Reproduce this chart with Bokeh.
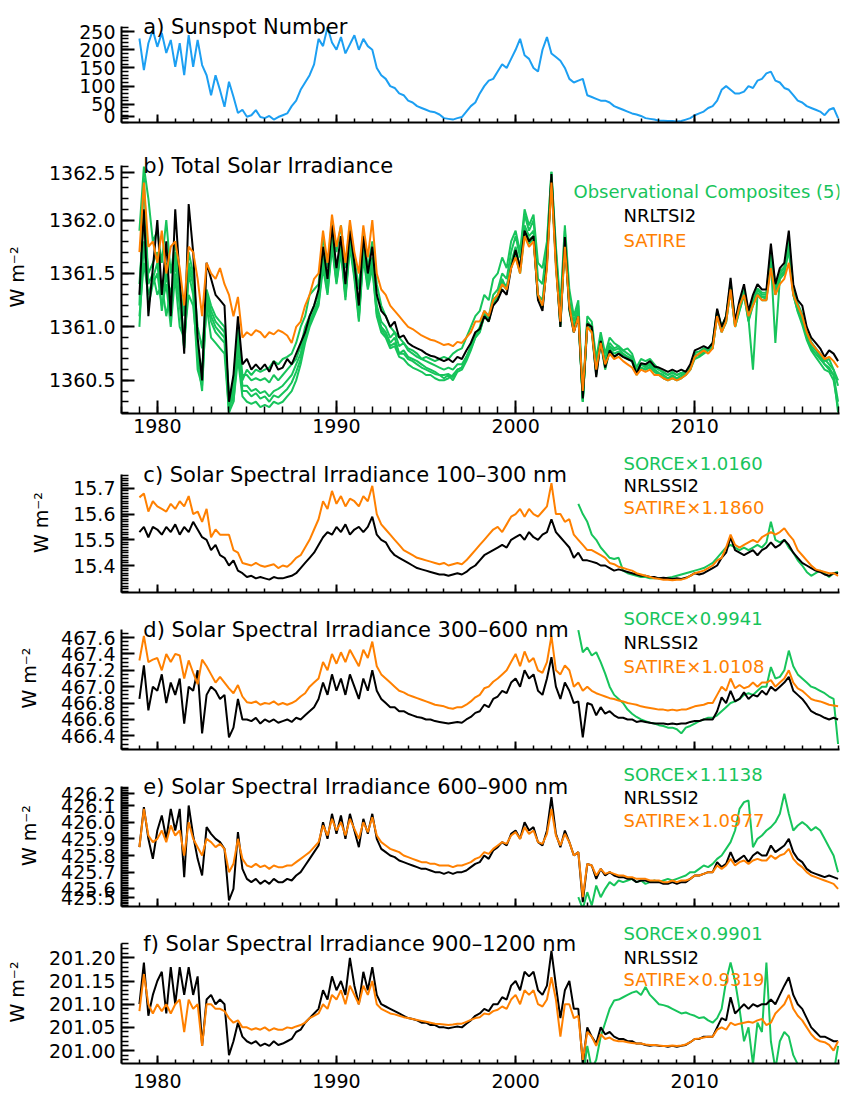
import numpy as np
from bokeh.plotting import figure
from bokeh.layouts import column
from bokeh.models import Range1d, FixedTicker, PrintfTickFormatter, Label
from bokeh.embed import file_html
from bokeh.resources import INLINE

# ---------------- data (quarterly samples, 1979.0 ... 2018.0) ----------------
START = 1979.0
STEP = 0.25
SORCE_START = 2003.5

sunspot = [
    231, 144, 218, 254,
    208, 246, 191, 227,
    153, 218, 130, 240,
    153, 227, 158, 130,
    75, 130, 89, 43,
    112, 71, 26, 35,
    16, 20, 34, 15,
    12, 18, 8, 15,
    20, 25, 45, 60,
    90, 110, 130, 160,
    230, 210, 262, 220,
    200, 235, 190, 215,
    240, 200, 230, 210,
    200, 150, 130, 120,
    100, 95, 80, 75,
    60, 55, 45, 40,
    35, 30, 28, 22,
    12, 10, 8, 12,
    15, 30, 45, 55,
    80, 100, 115, 120,
    140, 160, 150, 175,
    200, 230, 185, 175,
    150, 140, 200, 235,
    190, 180, 170, 150,
    120, 110, 115, 120,
    75, 70, 65, 60,
    60, 55, 45, 40,
    35, 30, 25, 22,
    18, 12, 10, 8,
    5, 5, 4, 4,
    3, 4, 8, 12,
    20, 25, 30, 40,
    45, 60, 90, 100,
    90, 80, 80, 85,
    100, 95, 115, 120,
    135, 140, 115, 110,
    95, 90, 75, 60,
    55, 45, 40, 35,
    30, 20, 35, 40,
    12,
]

tsi_nrltsi2 = [
    1361.3, 1362.1, 1361.1, 1361.55,
    1362.0, 1361.3, 1361.8, 1361.1,
    1362.1, 1361.45, 1360.75, 1362.15,
    1361.7, 1360.9, 1360.5, 1361.6,
    1361.45, 1361.3, 1361.25, 1361.2,
    1360.3, 1360.55, 1361.1, 1360.65,
    1360.7, 1360.6, 1360.65, 1360.6,
    1360.65, 1360.58, 1360.68, 1360.6,
    1360.62, 1360.7, 1360.65, 1360.75,
    1360.85, 1360.95, 1361.1, 1361.2,
    1361.35, 1361.75, 1361.45, 1361.95,
    1361.55, 1361.85, 1361.4, 1361.9,
    1361.6, 1361.2, 1361.85, 1361.5,
    1361.75, 1361.3, 1361.15, 1361.1,
    1361.0, 1361.05, 1360.9, 1360.92,
    1360.85, 1360.82, 1360.8, 1360.78,
    1360.75, 1360.73, 1360.72, 1360.7,
    1360.68, 1360.7, 1360.67, 1360.72,
    1360.7, 1360.78, 1360.85, 1360.95,
    1360.98, 1361.1, 1361.05, 1361.2,
    1361.25, 1361.35, 1361.3, 1361.55,
    1361.72, 1361.55, 1361.9, 1361.8,
    1361.85, 1361.25, 1361.15, 1361.6,
    1362.43, 1361.6, 1361.0, 1361.84,
    1361.17, 1360.95, 1361.1, 1360.33,
    1361.03, 1361.0, 1360.53, 1360.87,
    1360.62, 1360.78, 1360.72, 1360.75,
    1360.72, 1360.7, 1360.68, 1360.56,
    1360.66, 1360.65, 1360.68, 1360.63,
    1360.62, 1360.6, 1360.58, 1360.6,
    1360.58, 1360.6, 1360.58, 1360.65,
    1360.78, 1360.8, 1360.82, 1360.8,
    1360.85, 1361.17, 1361.0, 1361.1,
    1361.46, 1361.05, 1361.25, 1361.4,
    1361.15, 1361.3, 1361.4, 1361.35,
    1361.35, 1361.78, 1361.4, 1361.55,
    1361.6, 1361.9, 1361.4, 1361.25,
    1361.2, 1361.0, 1360.9, 1360.85,
    1360.8, 1360.72, 1360.78, 1360.75,
    1360.68,
]

tsi_satire = [
    1361.7, 1362.35, 1361.75, 1361.8,
    1361.6, 1361.9, 1361.5, 1361.75,
    1361.8, 1361.55, 1361.2, 1361.75,
    1361.7, 1361.45, 1361.1, 1361.6,
    1361.5, 1361.45, 1361.55, 1361.4,
    1361.3, 1361.1, 1361.28, 1360.9,
    1360.95, 1360.92, 1360.97, 1360.95,
    1360.9, 1360.95, 1360.93, 1360.97,
    1360.95, 1360.92, 1360.85, 1361.0,
    1361.05, 1361.2, 1361.3, 1361.45,
    1361.5, 1361.9, 1361.6, 1362.05,
    1361.75, 1361.95, 1361.6, 1362.0,
    1361.7, 1361.5, 1361.95, 1361.65,
    1362.0, 1361.5, 1361.35, 1361.3,
    1361.2, 1361.15, 1361.1, 1361.05,
    1361.0, 1360.98, 1360.95, 1360.92,
    1360.9, 1360.88, 1360.87, 1360.85,
    1360.83, 1360.84, 1360.82, 1360.86,
    1360.85, 1360.9, 1360.95, 1361.05,
    1361.05, 1361.15, 1361.1, 1361.25,
    1361.3, 1361.4, 1361.35, 1361.55,
    1361.65, 1361.5, 1361.85, 1361.75,
    1361.8, 1361.3, 1361.2, 1361.55,
    1362.35, 1361.55, 1361.05, 1361.75,
    1361.2, 1360.95, 1361.1, 1360.4,
    1361.0, 1360.95, 1360.6, 1360.85,
    1360.65, 1360.75, 1360.7, 1360.72,
    1360.68, 1360.65, 1360.62, 1360.55,
    1360.6, 1360.58, 1360.6, 1360.55,
    1360.55, 1360.52, 1360.5, 1360.52,
    1360.5, 1360.52, 1360.55, 1360.6,
    1360.72, 1360.75, 1360.78, 1360.75,
    1360.8, 1361.1, 1360.95, 1361.05,
    1361.35, 1361.0, 1361.2, 1361.3,
    1361.1, 1361.2, 1361.3, 1361.25,
    1361.25, 1361.55, 1361.3, 1361.4,
    1361.45, 1361.6, 1361.3, 1361.2,
    1361.1, 1360.95, 1360.85, 1360.8,
    1360.75, 1360.7, 1360.72, 1360.68,
    1360.62,
]

tsi_composite_1 = [
    1361.9, 1362.5, 1362.2, 1361.8,
    1361.9, 1361.6, 1362.0, 1361.5,
    1361.8, 1361.4, 1361.1, 1361.7,
    1361.5, 1361.0, 1360.8, 1361.3,
    1361.1, 1361.0, 1360.95, 1360.9,
    1360.4, 1360.3, 1360.8, 1360.5,
    1360.6, 1360.55, 1360.6, 1360.58,
    1360.6, 1360.62, 1360.68, 1360.65,
    1360.7, 1360.72, 1360.75, 1360.85,
    1361.0, 1361.1, 1361.3, 1361.35,
    1361.4, 1361.85, 1361.55, 1362.0,
    1361.7, 1361.95, 1361.55, 1361.95,
    1361.65, 1361.35, 1361.9, 1361.55,
    1361.8, 1361.4, 1361.2, 1361.1,
    1361.0, 1360.95, 1360.9, 1360.85,
    1360.8, 1360.78, 1360.75, 1360.7,
    1360.72, 1360.7, 1360.68, 1360.7,
    1360.72, 1360.7, 1360.75, 1360.78,
    1360.8, 1360.9, 1361.0, 1361.1,
    1361.15, 1361.3, 1361.25, 1361.45,
    1361.5, 1361.65, 1361.55, 1361.8,
    1361.9, 1361.7, 1362.1, 1361.95,
    1362.05, 1361.6, 1361.55, 1361.8,
    1362.45, 1361.75, 1361.2, 1361.95,
    1361.35, 1361.1, 1361.25, 1360.35,
    1361.1, 1361.05, 1360.7, 1360.95,
    1360.75, 1360.9, 1360.85, 1360.82,
    1360.78, 1360.8, 1360.75, 1360.62,
    1360.7, 1360.68, 1360.7, 1360.65,
    1360.6, 1360.58, 1360.55, 1360.58,
    1360.55, 1360.57, 1360.58, 1360.62,
    1360.72, 1360.75, 1360.78, 1360.8,
    1360.85, 1361.15, 1361.0, 1361.1,
    1361.4, 1361.05, 1361.2, 1361.35,
    1361.1, 1361.25, 1361.35, 1361.3,
    1361.3, 1361.7, 1361.35, 1361.5,
    1361.55, 1361.8, 1361.35, 1361.2,
    1361.1, 1360.95, 1360.85, 1360.8,
    1360.75, 1360.7, 1360.65, 1360.6,
    1360.45,
]

tsi_composite_2 = [
    1361.1, 1361.6, 1361.3, 1361.45,
    1361.6, 1361.15, 1361.5, 1361.2,
    1361.6, 1361.3, 1360.8, 1361.55,
    1361.4, 1360.7, 1360.4, 1361.3,
    1361.15, 1361.05, 1361.0, 1360.95,
    1360.25, 1360.45, 1360.9, 1360.45,
    1360.45, 1360.4, 1360.42, 1360.38,
    1360.4, 1360.35, 1360.4, 1360.42,
    1360.45, 1360.5, 1360.55, 1360.65,
    1360.75, 1360.95, 1361.05, 1361.15,
    1361.25, 1361.6, 1361.35, 1361.8,
    1361.45, 1361.75, 1361.3, 1361.8,
    1361.5, 1361.1, 1361.7, 1361.4,
    1361.6, 1361.15, 1361.0, 1360.95,
    1360.85, 1360.9, 1360.75, 1360.78,
    1360.72, 1360.7, 1360.68, 1360.65,
    1360.62, 1360.6, 1360.58, 1360.55,
    1360.52, 1360.55, 1360.5, 1360.58,
    1360.6, 1360.68, 1360.78, 1360.9,
    1360.95, 1361.1, 1361.05, 1361.25,
    1361.3, 1361.45, 1361.35, 1361.6,
    1361.75, 1361.55, 1361.95, 1361.85,
    1361.9, 1361.3, 1361.25, 1361.65,
    1362.35, 1361.65, 1361.05, 1361.85,
    1361.2, 1361.0, 1361.15, 1360.3,
    1361.05, 1361.0, 1360.6, 1360.9,
    1360.65, 1360.82, 1360.78, 1360.8,
    1360.75, 1360.72, 1360.7, 1360.58,
    1360.62, 1360.6, 1360.62, 1360.58,
    1360.55, 1360.52, 1360.5, 1360.52,
    1360.5, 1360.52, 1360.55, 1360.6,
    1360.7, 1360.72, 1360.75, 1360.78,
    1360.8, 1361.1, 1360.95, 1361.05,
    1361.35, 1361.0, 1361.15, 1361.3,
    1361.05, 1361.2, 1361.3, 1361.25,
    1361.25, 1361.65, 1361.3, 1361.45,
    1361.5, 1361.75, 1361.3, 1361.15,
    1361.05, 1360.9, 1360.8, 1360.75,
    1360.7, 1360.65, 1360.6, 1360.55,
    1360.3,
]

tsi_composite_3 = [
    1361.2, 1362.4, 1361.4, 1361.5,
    1361.3, 1361.4, 1361.1, 1361.35,
    1361.45, 1361.0, 1360.9, 1361.3,
    1361.2, 1360.75, 1360.6, 1361.2,
    1360.9, 1360.85, 1360.8, 1360.75,
    1360.2, 1360.3, 1360.7, 1360.35,
    1360.3, 1360.28, 1360.3, 1360.25,
    1360.27, 1360.25, 1360.3, 1360.28,
    1360.3, 1360.35, 1360.4, 1360.5,
    1360.65, 1360.85, 1361.0, 1361.1,
    1361.2, 1361.55, 1361.3, 1361.75,
    1361.4, 1361.7, 1361.25, 1361.75,
    1361.45, 1361.05, 1361.65, 1361.35,
    1361.55, 1361.1, 1360.95, 1360.9,
    1360.8, 1360.82, 1360.72, 1360.7,
    1360.65, 1360.62, 1360.6, 1360.58,
    1360.55, 1360.55, 1360.52, 1360.5,
    1360.5, 1360.52, 1360.55, 1360.6,
    1360.62, 1360.72, 1360.8, 1360.92,
    1361.0, 1361.15, 1361.1, 1361.3,
    1361.35, 1361.5, 1361.45, 1361.7,
    1361.85, 1361.65, 1362.05, 1361.9,
    1362.0, 1361.45, 1361.4, 1361.75,
    1362.45, 1361.7, 1361.1, 1361.9,
    1361.25, 1361.05, 1361.2, 1360.3,
    1361.05, 1361.0, 1360.65, 1360.92,
    1360.7, 1360.85, 1360.8, 1360.82,
    1360.78, 1360.75, 1360.72, 1360.6,
    1360.65, 1360.62, 1360.65, 1360.6,
    1360.57, 1360.55, 1360.52, 1360.55,
    1360.52, 1360.55, 1360.57, 1360.62,
    1360.75, 1360.73, 1360.78, 1360.8,
    1360.82, 1361.12, 1360.98, 1361.08,
    1361.38, 1361.02, 1361.18, 1361.32,
    1361.08, 1360.6, 1361.3, 1361.28,
    1361.28, 1361.68, 1361.32, 1361.48,
    1361.52, 1361.78, 1361.32, 1361.18,
    1361.08, 1360.92, 1360.82, 1360.78,
    1360.72, 1360.65, 1360.62, 1360.55,
    1360.2,
]

tsi_composite_4 = [
    1361.4, 1362.0, 1361.5, 1361.6,
    1361.7, 1361.3, 1361.6, 1361.1,
    1361.7, 1361.35, 1360.85, 1361.6,
    1361.45, 1360.8, 1360.5, 1361.35,
    1361.2, 1361.1, 1361.05, 1361.0,
    1360.3, 1360.5, 1361.0, 1360.55,
    1360.55, 1360.5, 1360.52, 1360.5,
    1360.52, 1360.48, 1360.55, 1360.5,
    1360.55, 1360.6, 1360.65, 1360.7,
    1360.82, 1361.0, 1361.1, 1361.2,
    1361.3, 1361.7, 1361.4, 1361.9,
    1361.5, 1361.8, 1361.35, 1361.85,
    1361.55, 1361.15, 1361.8, 1361.45,
    1361.65, 1361.2, 1361.05, 1361.0,
    1360.9, 1360.95, 1360.82, 1360.85,
    1360.78, 1360.75, 1360.72, 1360.7,
    1360.68, 1360.66, 1360.64, 1360.62,
    1360.6, 1360.62, 1360.6, 1360.65,
    1360.65, 1360.72, 1360.82, 1360.92,
    1360.97, 1361.12, 1361.08, 1361.22,
    1361.28, 1361.42, 1361.38, 1361.58,
    1361.7, 1361.52, 1361.9, 1361.82,
    1361.85, 1361.28, 1361.2, 1361.62,
    1362.4, 1361.62, 1361.02, 1361.82,
    1361.18, 1360.98, 1361.12, 1360.32,
    1361.02, 1360.98, 1360.58, 1360.88,
    1360.63, 1360.8, 1360.75, 1360.77,
    1360.74, 1360.72, 1360.7, 1360.57,
    1360.65, 1360.63, 1360.66, 1360.62,
    1360.6, 1360.57, 1360.55, 1360.57,
    1360.55, 1360.57, 1360.58, 1360.63,
    1360.76, 1360.77, 1360.8, 1360.8,
    1360.83, 1361.15, 1361.0, 1361.08,
    1361.42, 1361.04, 1361.22, 1361.36,
    1361.12, 1361.26, 1361.36, 1361.32,
    1361.32, 1361.72, 1361.38, 1361.52,
    1361.56, 1361.82, 1361.36, 1361.22,
    1361.12, 1360.96, 1360.86, 1360.8,
    1360.74, 1360.68, 1360.7, 1360.6,
    1360.5,
]

tsi_composite_5 = [
    1361.0, 1361.8, 1361.2, 1361.4,
    1361.5, 1361.2, 1361.4, 1361.0,
    1361.5, 1361.2, 1360.8, 1361.5,
    1361.3, 1360.6, 1360.45, 1361.25,
    1361.05, 1360.95, 1360.9, 1360.85,
    1360.2, 1360.4, 1360.85, 1360.4,
    1360.4, 1360.35, 1360.38, 1360.33,
    1360.35, 1360.3, 1360.36, 1360.34,
    1360.38, 1360.42, 1360.48, 1360.58,
    1360.7, 1360.9, 1361.02, 1361.12,
    1361.22, 1361.62, 1361.32, 1361.78,
    1361.42, 1361.72, 1361.28, 1361.78,
    1361.48, 1361.08, 1361.68, 1361.38,
    1361.58, 1361.12, 1360.98, 1360.92,
    1360.82, 1360.85, 1360.75, 1360.75,
    1360.7, 1360.68, 1360.65, 1360.62,
    1360.6, 1360.58, 1360.56, 1360.55,
    1360.55, 1360.56, 1360.53, 1360.6,
    1360.62, 1360.7, 1360.8, 1360.9,
    1360.96, 1361.1, 1361.06, 1361.22,
    1361.26, 1361.4, 1361.35, 1361.56,
    1361.66, 1361.5, 1361.88, 1361.78,
    1361.82, 1361.26, 1361.18, 1361.58,
    1362.38, 1361.58, 1361.0, 1361.8,
    1361.15, 1360.95, 1361.1, 1360.3,
    1361.0, 1360.95, 1360.55, 1360.85,
    1360.6, 1360.78, 1360.72, 1360.75,
    1360.72, 1360.7, 1360.68, 1360.55,
    1360.62, 1360.6, 1360.63, 1360.58,
    1360.56, 1360.53, 1360.51, 1360.53,
    1360.51, 1360.53, 1360.56, 1360.6,
    1360.73, 1360.74, 1360.76, 1360.78,
    1360.8, 1361.12, 1360.96, 1361.04,
    1361.36, 1361.0, 1361.16, 1361.3,
    1361.06, 1361.22, 1361.32, 1361.28,
    1361.26, 1361.62, 1360.85, 1361.45,
    1361.5, 1361.72, 1361.3, 1361.14,
    1361.02, 1360.88, 1360.78, 1360.72,
    1360.66, 1360.6, 1360.58, 1360.5,
    1360.25,
]

ssi100_nrlssi2 = [
    15.53, 15.55, 15.51, 15.55,
    15.54, 15.52, 15.55, 15.53,
    15.56, 15.52, 15.55, 15.53,
    15.57, 15.54, 15.51, 15.5,
    15.46, 15.48, 15.44, 15.43,
    15.4, 15.42, 15.38, 15.37,
    15.355, 15.36, 15.35, 15.355,
    15.35, 15.345, 15.355, 15.35,
    15.35, 15.355, 15.36, 15.37,
    15.39, 15.41, 15.43, 15.45,
    15.48, 15.51, 15.53, 15.52,
    15.55, 15.53, 15.56, 15.52,
    15.54, 15.55, 15.53, 15.55,
    15.59, 15.52, 15.5, 15.49,
    15.46, 15.44, 15.43, 15.42,
    15.41, 15.4, 15.39, 15.385,
    15.38, 15.375, 15.37, 15.365,
    15.365, 15.36, 15.365, 15.37,
    15.365, 15.375, 15.39, 15.4,
    15.42, 15.44, 15.45, 15.46,
    15.47, 15.48, 15.47, 15.5,
    15.51, 15.52, 15.5, 15.53,
    15.51, 15.5, 15.52, 15.53,
    15.58, 15.53, 15.51, 15.49,
    15.47, 15.43, 15.45, 15.42,
    15.42, 15.415, 15.41, 15.4,
    15.4, 15.39, 15.38, 15.385,
    15.38, 15.375, 15.37, 15.365,
    15.36, 15.36, 15.355, 15.355,
    15.35, 15.352, 15.35, 15.348,
    15.35, 15.348, 15.352, 15.36,
    15.37, 15.365, 15.37, 15.38,
    15.39, 15.4, 15.43, 15.45,
    15.51, 15.46, 15.45, 15.44,
    15.45, 15.46, 15.44, 15.46,
    15.47, 15.49, 15.47, 15.48,
    15.5, 15.48, 15.45, 15.43,
    15.41, 15.4, 15.39, 15.38,
    15.375, 15.365, 15.36, 15.37,
    15.37,
]

ssi100_satire = [
    15.665, 15.68, 15.61, 15.65,
    15.63, 15.62, 15.61, 15.64,
    15.62, 15.65, 15.63, 15.67,
    15.6, 15.61, 15.57, 15.62,
    15.51, 15.54, 15.52, 15.52,
    15.52, 15.46, 15.45, 15.41,
    15.405, 15.4, 15.41, 15.4,
    15.395, 15.4, 15.405, 15.39,
    15.4, 15.395, 15.41, 15.43,
    15.44, 15.47, 15.5, 15.54,
    15.58, 15.65, 15.62, 15.69,
    15.64, 15.67, 15.63, 15.66,
    15.65, 15.63, 15.67, 15.65,
    15.71, 15.6, 15.56, 15.54,
    15.52, 15.5, 15.48, 15.46,
    15.45, 15.44, 15.43, 15.425,
    15.42, 15.415, 15.41, 15.405,
    15.41, 15.4, 15.405, 15.41,
    15.405, 15.42, 15.44, 15.46,
    15.48, 15.5, 15.52, 15.54,
    15.55, 15.53, 15.56, 15.59,
    15.6, 15.62, 15.59, 15.62,
    15.6, 15.59, 15.61, 15.63,
    15.72, 15.6, 15.6, 15.57,
    15.58, 15.52, 15.5, 15.48,
    15.46, 15.46, 15.45, 15.44,
    15.43, 15.41, 15.405, 15.395,
    15.39, 15.385, 15.38, 15.37,
    15.365, 15.36, 15.355, 15.35,
    15.348, 15.345, 15.345, 15.343,
    15.345, 15.345, 15.35, 15.36,
    15.37, 15.375, 15.38, 15.39,
    15.4, 15.42, 15.43, 15.47,
    15.52, 15.48, 15.47, 15.48,
    15.49, 15.5, 15.49, 15.51,
    15.52, 15.53, 15.52, 15.53,
    15.545, 15.52, 15.5, 15.46,
    15.44, 15.42, 15.4, 15.385,
    15.38, 15.375, 15.37, 15.37,
    15.36,
]

ssi100_sorce = [
    15.64, 15.6,
    15.57, 15.52, 15.5, 15.47,
    15.45, 15.43, 15.425, 15.43,
    15.38, 15.37, 15.365, 15.36,
    15.355, 15.355, 15.35, 15.35,
    15.35, 15.348, 15.352, 15.355,
    15.36, 15.365, 15.37, 15.375,
    15.38, 15.385, 15.39, 15.4,
    15.41, 15.43, 15.45, 15.47,
    15.48, 15.47, 15.46, 15.47,
    15.46, 15.47, 15.48, 15.47,
    15.49, 15.57, 15.5, 15.49,
    15.5, 15.47, 15.45, 15.42,
    15.4, 15.375, 15.36, 15.37,
    15.38, 15.37, 15.355, 15.37,
    15.375,
]

ssi300_nrlssi2 = [
    466.85, 467.26, 466.71, 467.0,
    466.95, 467.15, 466.8, 467.05,
    466.9, 467.1, 466.55, 467.0,
    466.95, 467.2, 466.43, 466.9,
    467.0, 466.95, 466.85, 466.9,
    466.38, 466.5, 466.85, 466.6,
    466.6, 466.58, 466.62, 466.55,
    466.6, 466.57, 466.6, 466.56,
    466.58, 466.6, 466.57, 466.62,
    466.6, 466.65, 466.7, 466.75,
    466.85, 467.05, 466.9, 467.15,
    466.95, 467.1, 466.9, 467.15,
    467.0, 466.85, 467.1, 466.95,
    467.2, 466.95, 466.85, 466.8,
    466.75, 466.75, 466.7, 466.7,
    466.67, 466.65, 466.63, 466.62,
    466.6, 466.6, 466.58, 466.57,
    466.56, 466.55, 466.56, 466.57,
    466.56, 466.6, 466.63, 466.68,
    466.7, 466.78, 466.75, 466.85,
    466.88, 466.95, 466.92, 467.05,
    467.1, 467.0, 467.2, 467.1,
    467.15, 466.95, 466.9, 467.1,
    467.36, 467.0, 466.85, 467.05,
    466.95, 466.8, 466.82, 466.38,
    466.8, 466.78, 466.65, 466.75,
    466.67, 466.7, 466.65, 466.62,
    466.62, 466.6, 466.6, 466.57,
    466.58, 466.57, 466.56, 466.55,
    466.55, 466.55, 466.54, 466.55,
    466.54, 466.55, 466.55, 466.57,
    466.58, 466.58, 466.6, 466.6,
    466.6, 466.7, 466.87, 466.8,
    466.95, 466.82, 466.85, 466.93,
    466.85, 466.9, 466.88, 466.95,
    466.9, 467.0, 466.95, 467.0,
    467.05, 467.12, 466.95, 466.9,
    466.85, 466.78, 466.7, 466.67,
    466.65, 466.62, 466.6, 466.62,
    466.6,
]

ssi300_satire = [
    467.32, 467.62, 467.3, 467.33,
    467.35, 467.2, 467.4, 467.3,
    467.4, 467.38, 467.1, 467.32,
    467.17, 467.03, 467.33, 467.25,
    467.15, 467.05, 467.12, 467.05,
    466.98, 466.92, 467.02, 466.88,
    466.81, 466.8, 466.82, 466.78,
    466.8, 466.79, 466.82, 466.78,
    466.8, 466.78, 466.8, 466.83,
    466.88, 466.92, 467.0, 467.05,
    467.1, 467.3, 467.2, 467.4,
    467.28, 467.42, 467.3, 467.45,
    467.35, 467.25, 467.45, 467.35,
    467.55, 467.25, 467.15, 467.1,
    467.05, 467.0, 466.95, 466.93,
    466.9, 466.88, 466.86, 466.84,
    466.82, 466.8, 466.78, 466.77,
    466.76, 466.74, 466.73, 466.75,
    466.75, 466.78, 466.82, 466.87,
    466.9, 466.98, 467.0, 467.06,
    467.1, 467.15, 467.2, 467.3,
    467.4, 467.25, 467.43, 467.3,
    467.35, 467.2, 467.17, 467.3,
    467.62, 467.2, 467.15, 467.26,
    467.2, 467.0, 467.05, 466.95,
    467.0, 466.95, 466.92, 466.9,
    466.88, 466.86, 466.85, 466.83,
    466.82, 466.8, 466.79, 466.78,
    466.76, 466.75, 466.74, 466.73,
    466.72, 466.72, 466.71, 466.72,
    466.71, 466.72, 466.72, 466.74,
    466.76, 466.77, 466.78, 466.8,
    466.8, 466.9, 467.0, 466.95,
    467.1, 466.98, 467.02, 466.98,
    467.0, 467.05, 467.0, 467.05,
    467.05, 467.08, 467.0, 467.05,
    467.1, 467.2, 467.05, 466.98,
    466.95, 466.9, 466.85, 466.83,
    466.82, 466.8, 466.78, 466.77,
    466.76,
]

ssi300_sorce = [
    467.69, 467.42,
    467.48, 467.38, 467.42, 467.3,
    467.16, 467.0, 466.9, 466.85,
    466.8, 466.72, 466.67, 466.63,
    466.6, 466.58, 466.56, 466.55,
    466.53, 466.52, 466.5, 466.5,
    466.48, 466.43, 466.5, 466.52,
    466.55, 466.58, 466.6, 466.62,
    466.62, 466.65, 466.7, 466.75,
    466.8, 466.82, 466.85, 466.9,
    466.92, 466.9, 466.95, 467.0,
    467.0, 467.24, 467.1, 467.12,
    467.2, 467.44, 467.25, 467.15,
    467.1, 467.05, 467.0, 466.98,
    466.95, 466.92, 466.88, 466.85,
    466.3,
]

ssi600_nrlssi2 = [
    425.85, 426.09, 425.9, 425.78,
    425.95, 426.04, 425.9, 426.08,
    425.95, 426.08, 425.67, 426.1,
    425.92, 425.78, 425.68, 425.97,
    425.93, 425.9, 425.88, 425.84,
    425.53, 425.6, 425.94, 425.72,
    425.66, 425.64, 425.66, 425.63,
    425.65, 425.63, 425.66, 425.64,
    425.64, 425.66, 425.65, 425.68,
    425.7, 425.74, 425.78, 425.82,
    425.86, 426.0, 425.9, 426.05,
    425.93, 426.04, 425.9, 426.05,
    425.95, 425.85, 426.02, 425.93,
    426.05, 425.9, 425.84, 425.82,
    425.8, 425.79, 425.77, 425.76,
    425.75, 425.74, 425.73, 425.72,
    425.72, 425.71, 425.7, 425.7,
    425.69, 425.7, 425.69, 425.7,
    425.7, 425.71, 425.73, 425.75,
    425.76, 425.8, 425.78, 425.83,
    425.85, 425.88, 425.86, 425.93,
    425.95, 425.9, 426.0, 425.95,
    425.97, 425.88, 425.86, 425.95,
    426.15, 425.93, 425.85, 425.95,
    425.88, 425.8, 425.82, 425.52,
    425.75, 425.74, 425.66, 425.72,
    425.68, 425.7, 425.68, 425.67,
    425.67, 425.66, 425.66, 425.64,
    425.65, 425.65, 425.64, 425.64,
    425.64, 425.63, 425.63, 425.64,
    425.63, 425.64, 425.64, 425.66,
    425.68, 425.68, 425.69, 425.7,
    425.7, 425.76, 425.73, 425.75,
    425.82, 425.76, 425.78, 425.8,
    425.76, 425.8, 425.82, 425.8,
    425.8, 425.86, 425.82, 425.84,
    425.86, 425.9, 425.82, 425.78,
    425.76, 425.72, 425.7, 425.69,
    425.68, 425.67, 425.68, 425.67,
    425.66,
]

ssi600_satire = [
    425.85, 426.08, 425.92, 425.88,
    425.9, 425.95, 425.88, 425.98,
    425.92, 425.95, 425.8, 426.0,
    425.9, 425.85, 425.8, 425.9,
    425.88, 425.85, 425.87, 425.84,
    425.7, 425.75, 425.9, 425.78,
    425.74, 425.73, 425.75, 425.73,
    425.74, 425.72, 425.74, 425.73,
    425.73, 425.74, 425.74, 425.76,
    425.78, 425.8, 425.82, 425.85,
    425.88, 425.98, 425.92, 426.02,
    425.95, 426.0, 425.92, 426.02,
    425.96, 425.9, 426.0, 425.94,
    426.03, 425.92, 425.88, 425.86,
    425.84, 425.83, 425.82, 425.8,
    425.79, 425.78, 425.77, 425.76,
    425.76, 425.75, 425.75, 425.74,
    425.74, 425.74, 425.73, 425.74,
    425.74, 425.75, 425.76, 425.78,
    425.79, 425.82, 425.81, 425.84,
    425.86, 425.88, 425.87, 425.92,
    425.94, 425.9, 425.97, 425.93,
    425.95, 425.88, 425.87, 425.93,
    426.08, 425.92, 425.86, 425.93,
    425.88, 425.8, 425.82, 425.55,
    425.75, 425.74, 425.68, 425.72,
    425.69, 425.7, 425.69, 425.68,
    425.68, 425.67, 425.67, 425.66,
    425.66, 425.66, 425.65, 425.65,
    425.65, 425.64, 425.64, 425.65,
    425.64, 425.65, 425.65, 425.66,
    425.68, 425.68, 425.69, 425.7,
    425.7, 425.74, 425.72, 425.74,
    425.78, 425.74, 425.76, 425.77,
    425.75, 425.77, 425.78, 425.77,
    425.77, 425.8, 425.78, 425.8,
    425.81, 425.84, 425.78, 425.75,
    425.73, 425.7, 425.68, 425.67,
    425.66, 425.65, 425.64, 425.63,
    425.6,
]

ssi600_sorce = [
    425.55, 425.48,
    425.58, 425.5, 425.62, 425.55,
    425.6, 425.64, 425.62, 425.65,
    425.64, 425.65, 425.66, 425.64,
    425.65, 425.63, 425.64, 425.65,
    425.64, 425.65, 425.66, 425.65,
    425.66, 425.67, 425.68, 425.7,
    425.7, 425.72, 425.74, 425.73,
    425.75, 425.78, 425.8, 425.84,
    425.88, 425.95, 426.08, 426.12,
    426.13, 425.85, 425.9, 425.92,
    425.95, 425.97, 426.0, 426.05,
    426.17, 426.05, 425.95, 425.98,
    426.0, 425.98, 425.95, 425.97,
    425.95, 425.9, 425.85, 425.8,
    425.7,
]

ssi900_nrlssi2 = [
    201.1, 201.19, 201.075, 201.12,
    201.15, 201.17, 201.08, 201.18,
    201.1, 201.18, 201.12, 201.18,
    201.12, 201.16, 201.01, 201.11,
    201.12, 201.1, 201.11, 201.1,
    200.99, 201.02, 201.06, 201.03,
    201.02, 201.015, 201.02, 201.01,
    201.015, 201.01, 201.02, 201.012,
    201.015, 201.02, 201.025, 201.04,
    201.045, 201.06, 201.07, 201.08,
    201.09, 201.13, 201.11, 201.16,
    201.13, 201.15, 201.12, 201.2,
    201.14, 201.1, 201.17, 201.13,
    201.18, 201.12, 201.1, 201.095,
    201.09, 201.085, 201.08, 201.075,
    201.07, 201.068, 201.065, 201.06,
    201.06, 201.055, 201.055, 201.05,
    201.05, 201.048, 201.05, 201.052,
    201.05, 201.058, 201.065, 201.075,
    201.08, 201.09, 201.085, 201.1,
    201.1, 201.115, 201.11, 201.14,
    201.15, 201.13, 201.17, 201.16,
    201.17, 201.13, 201.12, 201.14,
    201.215, 201.14, 201.07, 201.13,
    201.15, 201.09, 201.09, 200.97,
    201.05, 201.03, 201.015, 201.05,
    201.035, 201.04, 201.03, 201.025,
    201.025, 201.02, 201.02, 201.015,
    201.015, 201.012, 201.01, 201.012,
    201.01, 201.01, 201.008, 201.01,
    201.008, 201.01, 201.012, 201.018,
    201.025, 201.025, 201.03, 201.03,
    201.03, 201.05, 201.07, 201.065,
    201.115, 201.08, 201.09, 201.1,
    201.09, 201.1, 201.095, 201.1,
    201.1, 201.11, 201.1, 201.12,
    201.14, 201.158, 201.12, 201.1,
    201.09, 201.07, 201.05, 201.04,
    201.03, 201.03, 201.025, 201.02,
    201.02,
]

ssi900_satire = [
    201.085, 201.165, 201.1, 201.08,
    201.1, 201.085, 201.1, 201.08,
    201.1, 201.11, 201.04, 201.11,
    201.09, 201.1, 201.01, 201.1,
    201.1, 201.09, 201.09, 201.085,
    201.07, 201.06, 201.065, 201.05,
    201.05, 201.045, 201.048, 201.045,
    201.05, 201.043, 201.048, 201.045,
    201.045, 201.05, 201.048, 201.052,
    201.055, 201.06, 201.07, 201.075,
    201.08, 201.1, 201.09, 201.12,
    201.11, 201.13, 201.1, 201.14,
    201.12, 201.1, 201.14, 201.12,
    201.15, 201.1, 201.09, 201.085,
    201.08, 201.078, 201.075, 201.072,
    201.07, 201.068, 201.066, 201.064,
    201.062, 201.06, 201.058, 201.057,
    201.056, 201.055, 201.056, 201.058,
    201.058, 201.062, 201.066, 201.07,
    201.072, 201.08, 201.078, 201.085,
    201.088, 201.095, 201.09, 201.11,
    201.12, 201.1, 201.13, 201.12,
    201.13, 201.1, 201.095, 201.11,
    201.158, 201.11, 201.03, 201.1,
    201.1, 201.07, 201.075, 200.98,
    201.04, 201.03, 201.01, 201.035,
    201.025, 201.028, 201.022, 201.02,
    201.02, 201.018, 201.016, 201.015,
    201.015, 201.013, 201.012, 201.012,
    201.011, 201.01, 201.01, 201.011,
    201.01, 201.011, 201.013, 201.018,
    201.025, 201.026, 201.028, 201.03,
    201.03, 201.045, 201.05, 201.045,
    201.06, 201.055, 201.058, 201.06,
    201.062, 201.06, 201.065, 201.068,
    201.055, 201.06, 201.08, 201.09,
    201.1, 201.12, 201.09, 201.075,
    201.065, 201.05, 201.035, 201.025,
    201.02, 201.018, 201.012, 201.0,
    201.02,
]

ssi900_sorce = [
    200.96, 200.94,
    201.01, 200.96, 200.98, 201.03,
    201.06, 201.09, 201.108, 201.11,
    201.115, 201.12, 201.125, 201.128,
    201.12, 201.137, 201.12, 201.11,
    201.1, 201.098, 201.095, 201.09,
    201.085, 201.08, 201.082, 201.078,
    201.075, 201.07, 201.072, 201.065,
    201.06, 201.07, 201.09, 201.15,
    201.19, 201.15, 201.09, 201.02,
    201.05, 200.97, 201.06, 201.04,
    201.19, 201.02, 200.96, 201.02,
    201.04, 201.03, 200.99, 200.97,
    200.97, 200.95, 200.96, 200.97,
    200.95, 200.94, 200.96, 200.95,
    201.01,
]

decade_ticks = [1980, 1990, 2000, 2010]

# ---------------- styling ----------------
FONT = "DejaVu Sans"
BLUE = "#1c9ff2"
GREEN = "#17c45b"
ORANGE = "#ff8000"
BLACK = "#000000"
X_RANGE = (1978.0, 2018.08)
TITLE_X = 1979.22
LEG_X = 2006.02


def times(vals, start):
    return [start + STEP * i for i in range(len(vals))]


def panel(h, ftop, fbot, yr, majors, minors, fmt, overrides=None,
          xlabels=False, xstandoff=10, xtick=(8, 4), ylabel="W m\u207b\u00b2"):
    """ftop/fbot: axis top / bottom in canvas pixels; the plotting frame is
    extended up to the canvas top so that texts above the axis stay visible."""
    y0, y1 = yr
    ppu = (fbot - ftop) / (y1 - y0)
    ytop = y1 + ftop / ppu
    p = figure(width=865, height=h, x_range=Range1d(*X_RANGE), y_range=Range1d(y0, ytop),
               output_backend="svg", toolbar_location=None,
               min_border_left=121, min_border_right=26,
               min_border_top=0, min_border_bottom=h - fbot)
    p.outline_line_color = None
    p.xgrid.visible = False
    p.ygrid.visible = False
    p.background_fill_color = "white"
    p.border_fill_color = "white"

    xa = p.xaxis[0]
    xa.ticker = FixedTicker(ticks=decade_ticks, minor_ticks=list(range(1978, 2019)))
    xa.major_tick_in = xtick[0]
    xa.major_tick_out = 0
    xa.minor_tick_in = xtick[1]
    xa.minor_tick_out = 0
    xa.axis_line_width = 2
    xa.axis_line_color = "black"
    xa.major_tick_line_width = 2
    xa.minor_tick_line_width = 1.5
    xa.major_tick_line_color = "black"
    xa.minor_tick_line_color = "black"
    xa.major_label_text_font = FONT
    xa.major_label_text_font_size = "19px"
    xa.major_label_text_color = "black"
    if xlabels:
        xa.major_label_standoff = xstandoff
    else:
        xa.major_label_overrides = {d: "" for d in decade_ticks}
        xa.major_label_standoff = 0

    ya = p.yaxis[0]
    ya.bounds = (y0, y1)
    ya.ticker = FixedTicker(ticks=majors, minor_ticks=minors)
    ya.formatter = PrintfTickFormatter(format=fmt)
    if overrides:
        ya.major_label_overrides = overrides
    ya.major_tick_in = 13
    ya.major_tick_out = 0
    ya.minor_tick_in = 7
    ya.minor_tick_out = 0
    ya.axis_line_width = 2
    ya.axis_line_color = "black"
    ya.major_tick_line_width = 2
    ya.minor_tick_line_width = 1.5
    ya.major_tick_line_color = "black"
    ya.minor_tick_line_color = "black"
    ya.major_label_text_font = FONT
    ya.major_label_text_font_size = "19px"
    ya.major_label_text_color = "black"
    ya.major_label_standoff = 6
    if ylabel:
        ya.axis_label = ylabel
        ya.axis_label_text_font = FONT
        ya.axis_label_text_font_size = "19px"
        ya.axis_label_text_font_style = "normal"
        ya.axis_label_text_color = "black"
        ya.axis_label_standoff = 18
    return p


def title(p, text, y1):
    p.add_layout(Label(x=TITLE_X, y=y1, text=text, text_font=FONT,
                       text_font_size="21px", text_color="black",
                       text_baseline="alphabetic", text_align="left"))


def legend(p, x, y, text, color):
    p.add_layout(Label(x=x, y=y, text=text, text_font=FONT, text_font_size="18px",
                       text_color=color, text_baseline="middle", text_align="left"))


def frange(a, b, s):
    n = int(round((b - a) / s))
    return [round(a + s * i, 4) for i in range(n + 1)]


# a) Sunspot
A_RANGE = (0, 264)
pa = panel(140, 26, 122, A_RANGE, [17, 50, 100, 150, 200, 250], frange(0, 260, 10), "%d",
           overrides={17: "0"}, ylabel=None)
pa.line(times(sunspot, START), sunspot, line_color=BLUE, line_width=2)
title(pa, "a) Sunspot Number", A_RANGE[1])

# b) TSI
B_RANGE = (1360.19, 1362.51)
pb = panel(312, 25, 273, B_RANGE, [1360.5, 1361.0, 1361.5, 1362.0, 1362.44],
           frange(1360.2, 1362.5, 0.1), "%.1f", overrides={1362.44: "1362.5"},
           xlabels=True, xstandoff=5, xtick=(13, 7))
for comp in [tsi_composite_1, tsi_composite_2, tsi_composite_3, tsi_composite_4, tsi_composite_5]:
    pb.line(times(comp, START), comp, line_color=GREEN, line_width=2)
pb.line(times(tsi_nrltsi2, START), tsi_nrltsi2, line_color=BLACK, line_width=2)
pb.line(times(tsi_satire, START), tsi_satire, line_color=ORANGE, line_width=2)
title(pb, "b) Total Solar Irradiance", B_RANGE[1])
legend(pb, 2003.23, 1362.27, "Observational Composites (5)", GREEN)
legend(pb, LEG_X, 1362.04, "NRLTSI2", BLACK)
legend(pb, LEG_X, 1361.81, "SATIRE", ORANGE)


def ssi_panel(h, ftop, fbot, yr, majors, minors, fmt, sorce, nrl, sat, ttl, legs, ys,
              overrides=None, xlabels=False):
    p = panel(h, ftop, fbot, yr, majors, minors, fmt, overrides=overrides, xlabels=xlabels)
    p.line(times(sorce, SORCE_START), sorce, line_color=GREEN, line_width=2)
    p.line(times(nrl, START), nrl, line_color=BLACK, line_width=2)
    p.line(times(sat, START), sat, line_color=ORANGE, line_width=2)
    title(p, ttl, yr[1])
    legend(p, LEG_X, ys[0], legs[0], GREEN)
    legend(p, LEG_X, ys[1], "NRLSSI2", BLACK)
    legend(p, LEG_X, ys[2], legs[1], ORANGE)
    return p


pc = ssi_panel(154, 22, 140, (15.295, 15.754), [15.4, 15.5, 15.6, 15.7],
               frange(15.30, 15.75, 0.01), "%.1f", ssi100_sorce, ssi100_nrlssi2, ssi100_satire,
               "c) Solar Spectral Irradiance 100\u2013300 nm",
               ("SORCE\u00d71.0160", "SATIRE\u00d71.1860"), (15.797, 15.712, 15.626))

pd = ssi_panel(158, 23, 143, (466.233, 467.698),
               [466.4, 466.6, 466.8, 467.0, 467.2, 467.4, 467.6],
               frange(466.25, 467.65, 0.05), "%.1f", ssi300_sorce, ssi300_nrlssi2, ssi300_satire,
               "d) Solar Spectral Irradiance 300\u2013600 nm",
               ("SORCE\u00d70.9941", "SATIRE\u00d71.0108"), (467.832, 467.539, 467.246))

pe = ssi_panel(156, 22, 142, (425.494, 426.214),
               [425.548, 425.6, 425.7, 425.8, 425.9, 426.0, 426.1, 426.172],
               frange(425.50, 426.21, 0.01), "%.1f", ssi600_sorce, ssi600_nrlssi2, ssi600_satire,
               "e) Solar Spectral Irradiance 600\u2013900 nm",
               ("SORCE\u00d71.1138", "SATIRE\u00d71.0977"), (426.286, 426.148, 426.01),
               overrides={425.548: "425.5", 426.172: "426.2"})

pf = ssi_panel(177, 23, 143, (200.972, 201.231), [201.0, 201.05, 201.1, 201.15, 201.2],
               frange(200.98, 201.23, 0.01), "%.2f", ssi900_sorce, ssi900_nrlssi2, ssi900_satire,
               "f) Solar Spectral Irradiance 900\u20131200 nm",
               ("SORCE\u00d70.9901", "SATIRE\u00d70.9319"), (201.252, 201.2, 201.153),
               xlabels=True)

layout = column(pa, pb, pc, pd, pe, pf, spacing=0)
open("out.html", "w").write(file_html(layout, INLINE))
